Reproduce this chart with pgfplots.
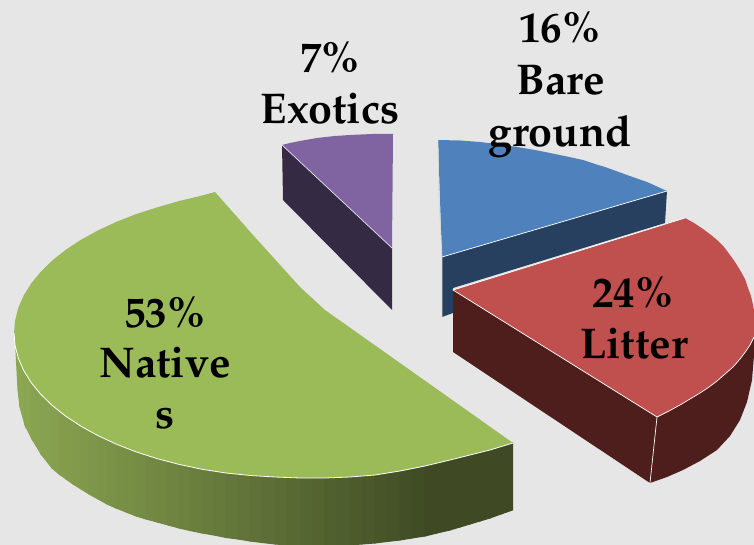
\documentclass[border=0pt]{standalone}
\usepackage[T1]{fontenc}
\renewcommand{\rmdefault}{ppl}
\usepackage{pgfplots}
\pgfplotsset{compat=1.18}

\definecolor{bg}{HTML}{E6E6E6}
\definecolor{greentop}{HTML}{9BBB59}
\definecolor{redtop}{HTML}{C0504D}
\definecolor{redside}{HTML}{4D1E1C}
\definecolor{bluetop}{HTML}{4F81BD}
\definecolor{blueside}{HTML}{27405F}
\definecolor{purpletop}{HTML}{8064A2}
\definecolor{purpleside}{HTML}{352A43}
\tikzset{lab/.style={font=\fontsize{43}{43}\selectfont\bfseries, text=black, inner sep=0pt, anchor=base}}

\begin{document}
\begin{tikzpicture}
\begin{axis}[
    width=754pt, height=545pt, scale only axis,
    xmin=0, xmax=754, ymin=0, ymax=545,
    y dir=reverse,
    hide axis,
    colormap={sidegreen}{rgb255(0cm)=(140,168,82); rgb255(5cm)=(63,74,36); rgb255(6cm)=(63,74,36)},
]
% background
\addplot[fill=bg, draw=none] coordinates {(0,0) (754,0) (754,545) (0,545)} -- cycle;

% Natives: side wall, strips shaded left to right
\addplot[surf, shader=faceted, faceted color=mapped color, line width=1pt, mesh/rows=2, point meta=x, forget plot] table {
x y
16 352
18.3 358.2
23.7 370.5
31.2 382.6
40.8 394.3
52.3 405.5
59 411
65.7 416.2
73 421
80.9 426.2
89 431
97.8 435.5
107 440
116.2 444.1
126 448
135.9 451.8
146 455
157 458.6
168 461.5
179.1 464.4
190 467
202.2 469.3
214 471
226 473
238 474
250.3 475.5
262 476
275 477
287 477.5
300 478
312 478
325 478
337 477.5
350 477
362 476
375 475
387 473
400 471
412 468.5
425 466
437 463
450 460
460 457.5
470 455
480 452.5
490 450
501 446.5
512.5 443
18 390
20 407
25 425
32 439
41 454
52 468
59 474
66 479
73 484
81 489
89 494
98 499
107 504
116 508
126 512
136 516
146 519
157 522
168 525
179 528
190 530.5
202 533
214 535
226 537.5
238 539
250 541
262 542.5
275 544
287 545
300 546
312 546
325 546
337 545.5
350 545
362 544
375 543
387 541.5
400 540
412 538
425 536
437 533
450 530
460 527
470 524
480 521
490 518
501 514
512.5 510
};
% Natives: top
\addplot[fill=greentop, draw=none] coordinates {
(215,192) (202.2,195.5) (179.1,201) (157,207.4) (135.9,214.2) (116.2,221.9) (97.8,230.5) (80.9,239.8)
(65.7,249.8) (52.3,260.5) (40.8,271.7) (31.2,283.4) (23.7,295.5) (18.3,307.8) (15.1,320.4) (14,333)
(15.1,345.6) (18.3,358.2) (23.7,370.5) (31.2,382.6) (40.8,394.3) (52.3,405.5) (65.7,416.2) (80.9,426.2)
(97.8,435.5) (116.2,444.1) (135.9,451.8) (157,458.6) (179.1,464.4) (202.2,469.3) (226,473) (250.3,475.5)
(275,477) (300,478) (325,478) (350,477) (375,475) (400,471) (425,466) (450,460) (470,455) (490,450) (513,443)
(400,363) (325,310) (300,287) (253,235)} -- cycle;
\addplot[white, line width=0.8pt] coordinates {
(14,333) (15.1,345.6) (18.3,358.2) (23.7,370.5) (31.2,382.6) (40.8,394.3) (52.3,405.5) (65.7,416.2) (80.9,426.2)
(97.8,435.5) (116.2,444.1) (135.9,451.8) (157,458.6) (179.1,464.4) (202.2,469.3) (226,473) (250.3,475.5)
(275,477) (300,478) (325,478) (350,477) (375,475) (400,471) (425,466) (450,460) (470,455) (490,450) (513,443)};

% Exotics
\addplot[fill=purpleside, draw=none] coordinates {(282,145) (392,248) (392,310) (283,200)} -- cycle;
\addplot[fill=purpletop, draw=none] coordinates {(282,145) (290,143) (300,141) (317,138) (335,136) (350,135) (372,134) (393,134) (392,248)} -- cycle;
\addplot[white!80!purpletop, line width=0.7pt] coordinates {(282,145) (392,248)};

% Bare ground
\addplot[fill=blueside, draw=none] coordinates {(442,257) (667,191) (665,223) (453,288) (453,313) (442,317)} -- cycle;
\addplot[fill=bluetop, draw=none] coordinates {(438,140) (460,140.5) (480,142) (500,144.5) (517,147) (535,150) (550,153) (567,156.5) (583,160) (595,164) (605,167) (627,175) (647,182) (667,191) (442,257)} -- cycle;
\addplot[white, line width=0.7pt] coordinates {(442,257) (667,191)};
\addplot[white!70!gray, line width=0.7pt] coordinates {(438,140) (439,200) (442,257) (442,317)};

% Litter
\addplot[fill=redside, draw=none] coordinates {(453,290) (657,417) (754,337)
(754,355) (752,380) (747,402) (740,420) (730,436) (717,450) (700,461) (683,470) (667,477) (650,483) (453,352)} -- cycle;
\addplot[fill=redtop, draw=none] coordinates {(453,290) (685,218) (694,223) (703,229) (711,235) (717,240) (724,247) (730,255) (735,262) (740,270)
(745,279) (748,288) (751,296) (753,305) (754.5,313) (755,320) (755,330) (754,337)
(750,345) (746,351) (740,359) (733,367) (725,374) (717,381) (709,387) (700,393) (690,399) (680,405) (669,411) (657,417)} -- cycle;
\addplot[white, line width=0.7pt] coordinates {(657,417) (453,290) (685,218)};
\addplot[white, line width=0.7pt] coordinates {(754,337) (750,345) (746,351) (740,359) (733,367) (725,374) (717,381) (709,387) (700,393) (690,399) (680,405) (669,411) (657,417) (650,483)};

% labels
\node[lab] at (axis cs:560,43) {16\%};
\node[lab] at (axis cs:561,95) {Bare};
\node[lab] at (axis cs:560,147) {ground};
\node[lab] at (axis cs:330,73) {7\%};
\node[lab] at (axis cs:330,124) {Exotics};
\node[lab] at (axis cs:165,327) {53\%};
\node[lab] at (axis cs:165,377) {Native};
\node[lab] at (axis cs:165,428) {s};
\node[lab] at (axis cs:633,307) {24\%};
\node[lab] at (axis cs:634,358) {Litter};
\end{axis}
\end{tikzpicture}
\end{document}
